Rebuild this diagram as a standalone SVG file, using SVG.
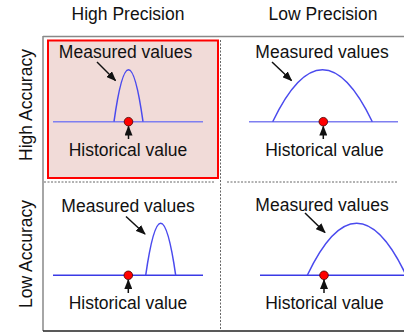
<svg xmlns="http://www.w3.org/2000/svg" width="404" height="334" viewBox="0 0 404 334">
<defs>
<marker id="ah" markerUnits="userSpaceOnUse" markerWidth="10" markerHeight="8" refX="9" refY="4" orient="auto">
<path d="M0,0 L10,4 L0,8 z" fill="#111"/>
</marker>
<style>
text{font-family:"Liberation Sans",Arial,sans-serif;font-size:17.5px;fill:#111;text-anchor:middle}
.ax{stroke:#888;stroke-width:1.5;fill:none}
.dash{stroke:#666;stroke-width:1;stroke-dasharray:2,1.5;fill:none}
.curve{stroke:#4a4aee;stroke-width:1.5;fill:none}
.base1{stroke:#7f7ff0;stroke-width:1.5}
.base2{stroke:#3a3ae6;stroke-width:1.5}
.dot{fill:#f00;stroke:#400;stroke-width:0.8}
.arr{stroke:#111;stroke-width:1.5;fill:none;marker-end:url(#ah)}
</style>
</defs>
<rect width="404" height="334" fill="#fff"/>
<g id="axes">
<line class="ax" x1="43" y1="36.5" x2="404" y2="36.5"/>
<line class="ax" x1="43" y1="36" x2="43" y2="331"/>
<line x1="43" y1="331" x2="404" y2="331" stroke="#222" stroke-width="1.5"/>
<line class="dash" x1="44" y1="182" x2="214" y2="182"/>
<line class="dash" x1="227" y1="182" x2="398" y2="182"/>
<line class="dash" x1="220.5" y1="40" x2="220.5" y2="331"/>
</g>
<g id="labels">
<text x="128" y="20">High Precision</text>
<text x="323" y="20">Low Precision</text>
<text transform="translate(31.5,105) rotate(-90)">High Accuracy</text>
<text transform="translate(32,254) rotate(-90)">Low Accuracy</text>
</g>
<g id="panel-hh">
<rect x="48" y="40.5" width="170" height="137.5" fill="#f1dbd8" stroke="#f00" stroke-width="2"/>
<text x="125.5" y="58">Measured values</text>
<line class="base1" x1="53" y1="121.7" x2="203" y2="121.7"/>
<path class="curve" d="M114,121.7 Q128.5,17.7 143,121.7"/>
<circle class="dot" cx="128.5" cy="121.7" r="4.3"/>
<line class="arr" x1="128.5" y1="139" x2="128.5" y2="126.5"/>
<text x="128" y="156">Historical value</text>
</g>
<g id="panel-hl">
<text x="322" y="58">Measured values</text>
<line class="base1" x1="249" y1="121.7" x2="398" y2="121.7"/>
<path class="curve" d="M272.7,121.7 Q322.5,17.7 372.3,121.7"/>
<circle class="dot" cx="323.3" cy="121.7" r="4.3"/>
<line class="arr" x1="323.3" y1="139" x2="323.3" y2="126.5"/>
<text x="324.5" y="156">Historical value</text>
</g>
<g id="panel-lh">
<text x="128" y="211.5">Measured values</text>
<line class="base2" x1="53" y1="275.3" x2="203" y2="275.3"/>
<path class="curve" d="M145.7,275.3 Q160.7,171.3 175.7,275.3"/>
<circle class="dot" cx="128.3" cy="275.3" r="4.3"/>
<line class="arr" x1="128.3" y1="293" x2="128.3" y2="280"/>
<text x="128" y="309.3">Historical value</text>
</g>
<g id="panel-ll">
<text x="322" y="211">Measured values</text>
<line class="base2" x1="260" y1="275.3" x2="404" y2="275.3"/>
<path class="curve" d="M307.3,275.3 Q356.7,171.3 406.1,275.3"/>
<circle class="dot" cx="324" cy="275.3" r="4.3"/>
<line class="arr" x1="324" y1="293" x2="324" y2="280"/>
<text x="324.5" y="309.3">Historical value</text>
</g>
<g id="connectors">
<line class="arr" x1="97" y1="62" x2="115.5" y2="80.5"/>
<line class="arr" x1="272" y1="62" x2="291.5" y2="80.5"/>
<line class="arr" x1="126" y1="216.5" x2="145" y2="234"/>
<line class="arr" x1="305" y1="213" x2="325" y2="232.5"/>
</g>
</svg>
